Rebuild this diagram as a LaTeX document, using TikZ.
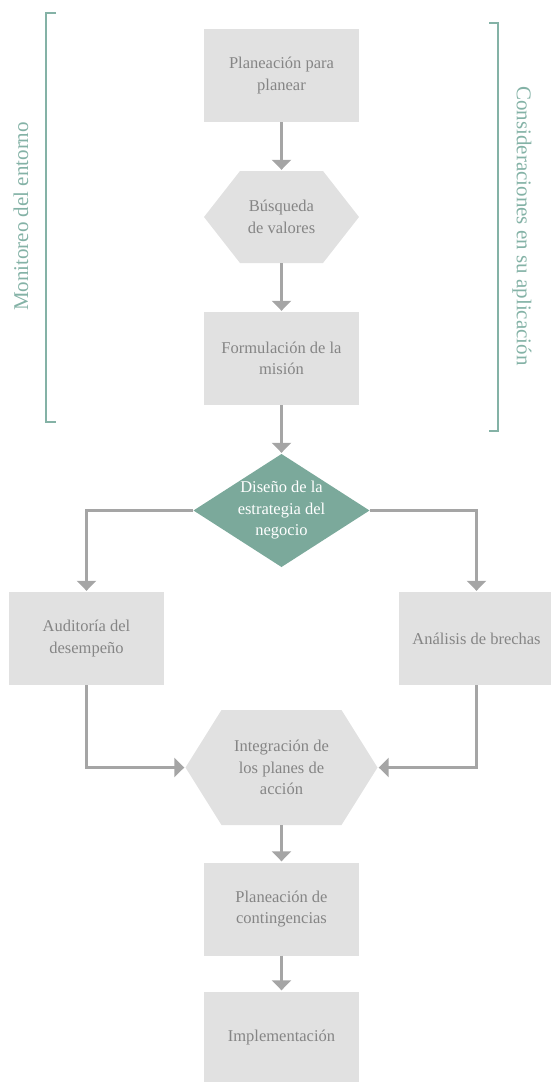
\documentclass[tikz,border=0pt]{standalone}
\usepackage{fontspec}
\setmainfont{Liberation Serif}
\usetikzlibrary{arrows.meta}

\definecolor{boxgray}{HTML}{E1E1E1}
\definecolor{txtgray}{HTML}{858585}
\definecolor{linegray}{HTML}{A5A5A5}
\definecolor{tealfill}{HTML}{7BA99B}
\definecolor{tealline}{HTML}{84B2A6}

\tikzset{
  lbl/.style={align=center, text=txtgray, font=\fontsize{16.5}{21.5}\selectfont},
  procbox/.style={lbl, rectangle, fill=boxgray, minimum width=155pt, minimum height=93pt, inner sep=0pt},
  hexbox/.style={lbl, rectangle, inner sep=0pt, minimum width=#1,
    path picture={
      \fill[boxgray]
        ([xshift=36pt]path picture bounding box.north west) --
        ([xshift=-36pt]path picture bounding box.north east) --
        (path picture bounding box.east) --
        ([xshift=-36pt]path picture bounding box.south east) --
        ([xshift=36pt]path picture bounding box.south west) --
        (path picture bounding box.west) -- cycle;
    }},
  decisbox/.style={lbl, text=white, rectangle, inner sep=0pt,
    minimum width=176pt, minimum height=113pt,
    path picture={
      \fill[tealfill]
        (path picture bounding box.north) --
        (path picture bounding box.east) --
        (path picture bounding box.south) --
        (path picture bounding box.west) -- cycle;
    }},
  flow/.style={draw=linegray, line width=3.4pt,
    -{Triangle[width=19pt,length=10pt]}, shorten >=1pt},
  bracket/.style={draw=tealline, line width=1.8pt},
  sidelbl/.style={text=tealline, font=\fontsize{21}{24}\selectfont, inner sep=0pt}
}

\begin{document}
\begin{tikzpicture}[x=1pt,y=-1pt]
  \useasboundingbox (0,0) rectangle (550,1082);

  % main column
  \node[procbox] (plan) at (281.5,75.5) {Planeación para\\planear};
  \node[hexbox=155pt, minimum height=92pt] (vals) at (281.5,217) {Búsqueda\\de valores};
  \node[procbox] (mision) at (281.5,358.5) {Formulación de la\\misión};
  \node[decisbox] (diseno) at (281.5,510.5) {Diseño de la\\estrategia del\\negocio};
  \node[procbox] (audit) at (86.5,638.5) {Auditoría del\\desempeño};
  \node[procbox] (brechas) at (476.5,638.5) {Análisis de brechas};
  \node[hexbox=192pt, minimum height=115pt] (integ) at (281.5,767.5) {Integración de\\los planes de\\acción};
  \node[procbox] (conting) at (281.5,909) {Planeación de\\contingencias};
  \node[procbox] (impl) at (281.5,1038) {Implementación};

  % connectors
  \draw[flow] (plan.south) -- (vals.north);
  \draw[flow] (vals.south) -- (mision.north);
  \draw[flow] (mision.south) -- (diseno.north);
  \draw[flow] (diseno.west) -| (audit.north);
  \draw[flow] (diseno.east) -| (brechas.north);
  \draw[flow] (audit.south) |- (integ.west);
  \draw[flow] (brechas.south) |- (integ.east);
  \draw[flow] (integ.south) -- (conting.north);
  \draw[flow] (conting.south) -- (impl.north);

  % side brackets and their labels
  \draw[bracket] (56,13) -- (45.6,13) -- (45.6,421.7) -- (56,421.7);
  \draw[bracket] (489,23) -- (498,23) -- (498,431) -- (489,431);
  \node[sidelbl, rotate=90] (entorno) at (21,216.5) {Monitoreo del entorno};
  \node[sidelbl, rotate=-90] (aplic) at (522,226) {Consideraciones en su aplicación};
\end{tikzpicture}
\end{document}
